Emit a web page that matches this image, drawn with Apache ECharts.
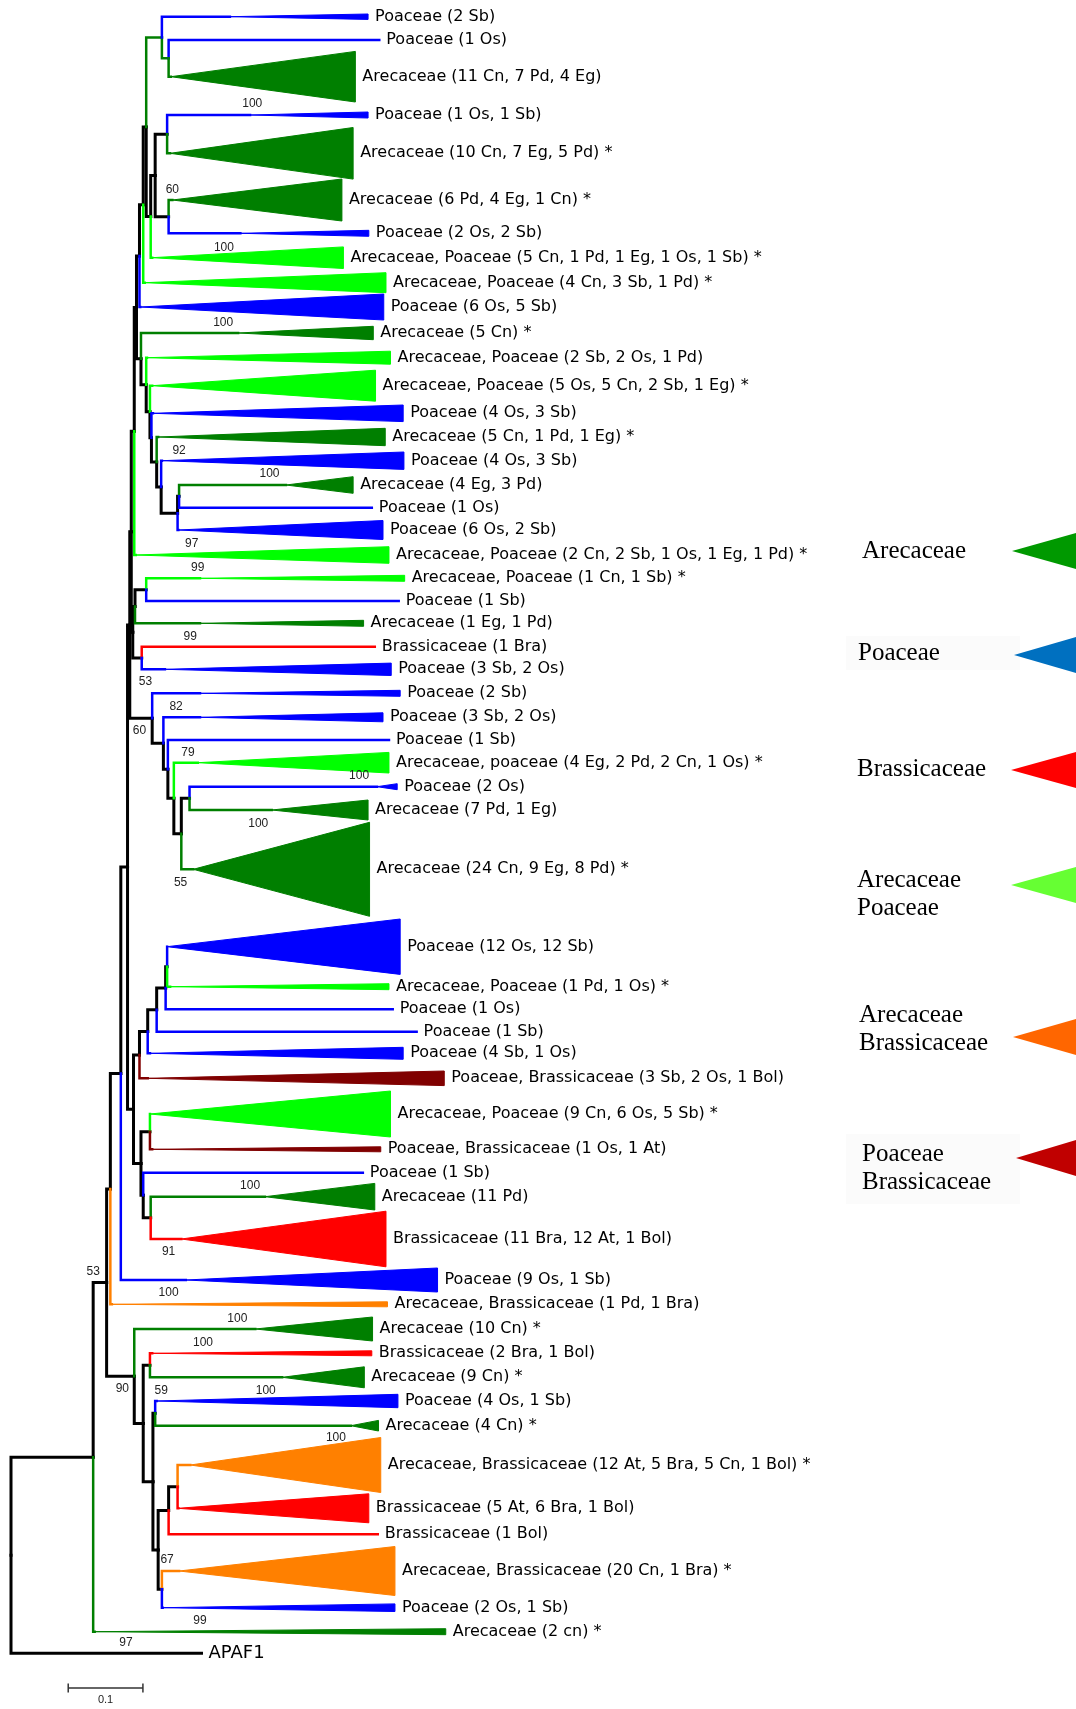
<!DOCTYPE html>
<html><head><meta charset="utf-8">
<script src="https://cdn.jsdelivr.net/npm/echarts@6/dist/echarts.min.js"></script>
<style>html,body{margin:0;padding:0;background:#fff}#c{width:1076px;height:1709px}</style>
</head><body><div id="c"></div>
<script>
// ---- clade groups -> branch colours
const groupColors = {Are:'#007F00', Poa:'#0000FF', Bra:'#FF0000', AreP:'#00FF00', AreB:'#FF8000', PoaB:'#800000', Out:'#000000'};

// ---- internal nodes: [id, parent, distance from root (subst./site)]
const nodes = [
 ['root',null,0],['MM','root',0.110],['BB','MM',0.128],['CC','BB',0.133],['DD','CC',0.147],
 ['Z4','DD',0.156],['Z3','Z4',0.159],['Z2','Z3',0.161],['Z1','Z2',0.165],['O','Z1',0.168],
 ['N','O',0.172],['M','N',0.177],['C','M',0.181],['A','C',0.202],['B','A',0.211],
 ['K','C',0.187],['D','K',0.193],['F','D',0.209],['E','D',0.211],
 ['R','O',0.174],['S','R',0.181],['T','S',0.186],['U','T',0.188],['V','U',0.195],
 ['W','V',0.201],['X','W',0.223],['Y','X',0.225],
 ['Q3','Z2',0.163],['Q2','Q3',0.166],['Q1','Q2',0.181],['Q4','Q3',0.175],
 ['P1','Z3',0.189],['P2','P1',0.204],['P3','P2',0.210],['P4','P3',0.218],['P5','P4',0.228],['P6','P5',0.239],
 ['EE','Z4',0.164],['J5','EE',0.172],['J4','J5',0.183],['J3','J4',0.195],['J1','J3',0.207],['J2','J1',0.209],
 ['K1','EE',0.174],['K2','K1',0.186],['K3','K1',0.177],['K4','K3',0.187],
 ['LL','BB',0.165],['NN1','LL',0.177],['NN2','NN1',0.186],['NN3','NN1',0.190],['NN4','NN3',0.193],
 ['NN5','NN3',0.197],['NN6','NN5',0.211],['NN8','NN6',0.223],['NN7','NN5',0.202]
];
// internal branches that carry a clade colour
const coloredNodes = {A:'Are', B:'Are'};

// ---- tips / collapsed clades:
// [label, group, parent, row, clade-root distance (null = single tip), tip distance, clade half-spread (rows)]
const leaves = [
 ['Poaceae (2 Sb)','Poa','A',16.7,0.293,0.478,2.7],
 ['Poaceae (1 Os)','Poa','B',40,null,0.493,0],
 ['Arecaceae (11 Cn, 7 Pd, 4 Eg)','Are','B',76.7,0.214,0.461,25.3],
 ['Poaceae (1 Os, 1 Sb)','Poa','F',115,0.320,0.478,3],
 ['Arecaceae (10 Cn, 7 Eg, 5 Pd) *','Are','F',153.3,0.213,0.458,25.8],
 ['Arecaceae (6 Pd, 4 Eg, 1 Cn) *','Are','E',200,0.216,0.443,21],
 ['Poaceae (2 Os, 2 Sb)','Poa','E',233.3,0.307,0.479,3],
 ['Arecaceae, Poaceae (5 Cn, 1 Pd, 1 Eg, 1 Os, 1 Sb) *','AreP','K',257.7,0.189,0.445,10.8],
 ['Arecaceae, Poaceae (4 Cn, 3 Sb, 1 Pd) *','AreP','M',282.7,0.179,0.502,10],
 ['Poaceae (6 Os, 5 Sb)','Poa','N',307,0.173,0.499,13],
 ['Arecaceae (5 Cn) *','Are','R',333,0.304,0.485,6.7],
 ['Arecaceae, Poaceae (2 Sb, 2 Os, 1 Pd)','AreP','S',357.7,0.182,0.508,6.5],
 ['Arecaceae, Poaceae (5 Os, 5 Cn, 2 Sb, 1 Eg) *','AreP','T',385.7,0.189,0.488,15.5],
 ['Poaceae (4 Os, 3 Sb)','Poa','U',413.3,0.190,0.525,8.3],
 ['Arecaceae (5 Cn, 1 Pd, 1 Eg) *','Are','V',437,0.197,0.501,8.7],
 ['Poaceae (4 Os, 3 Sb)','Poa','W',460.7,0.202,0.526,8.7],
 ['Arecaceae (4 Eg, 3 Pd)','Are','Y',485,0.368,0.458,8.3],
 ['Poaceae (1 Os)','Poa','Y',507.7,null,0.483,0],
 ['Poaceae (6 Os, 2 Sb)','Poa','X',530,0.224,0.498,9.5],
 ['Arecaceae, Poaceae (2 Cn, 2 Sb, 1 Os, 1 Eg, 1 Pd) *','AreP','Z1',555,0.167,0.506,8.3],
 ['Arecaceae, Poaceae (1 Cn, 1 Sb) *','AreP','Q1',578.3,0.253,0.527,3],
 ['Poaceae (1 Sb)','Poa','Q1',601,null,0.519,0],
 ['Arecaceae (1 Eg, 1 Pd)','Are','Q2',623.3,0.253,0.472,3],
 ['Brassicaceae (1 Bra)','Bra','Q4',646.7,null,0.487,0],
 ['Poaceae (3 Sb, 2 Os)','Poa','Q4',669.3,0.206,0.509,6.2],
 ['Poaceae (2 Sb)','Poa','P1',693.3,0.253,0.521,3],
 ['Poaceae (3 Sb, 2 Os)','Poa','P2',717.3,0.253,0.498,4.5],
 ['Poaceae (1 Sb)','Poa','P3',740,null,0.506,0],
 ['Arecaceae, poaceae (4 Eg, 2 Pd, 2 Cn, 1 Os) *','AreP','P4',762.7,0.250,0.506,10.3],
 ['Poaceae (2 Os)','Poa','P6',786.7,0.490,0.517,3],
 ['Arecaceae (7 Pd, 1 Eg)','Are','P6',810,0.349,0.478,10],
 ['Arecaceae (24 Cn, 9 Eg, 8 Pd) *','Are','P5',869.3,0.244,0.480,47],
 ['Poaceae (12 Os, 12 Sb)','Poa','J2',946.7,0.209,0.521,27.7],
 ['Arecaceae, Poaceae (1 Pd, 1 Os) *','AreP','J2',986.7,0.213,0.506,3],
 ['Poaceae (1 Os)','Poa','J1',1009.3,null,0.511,0],
 ['Poaceae (1 Sb)','Poa','J3',1031.7,null,0.543,0],
 ['Poaceae (4 Sb, 1 Os)','Poa','J4',1053.3,0.186,0.525,6],
 ['Poaceae, Brassicaceae (3 Sb, 2 Os, 1 Bol)','PoaB','J5',1078.3,0.183,0.580,7.3],
 ['Arecaceae, Poaceae (9 Cn, 6 Os, 5 Sb) *','AreP','K2',1114,0.186,0.508,23],
 ['Poaceae, Brassicaceae (1 Os, 1 At)','PoaB','K2',1149.3,0.189,0.495,2.5],
 ['Poaceae (1 Sb)','Poa','K3',1172.7,null,0.471,0],
 ['Arecaceae (11 Pd)','Are','K4',1196.7,0.340,0.487,13.3],
 ['Brassicaceae (11 Bra, 12 At, 1 Bol)','Bra','K4',1239,0.228,0.502,27.8],
 ['Poaceae (9 Os, 1 Sb)','Poa','DD',1280,0.234,0.571,12],
 ['Arecaceae, Brassicaceae (1 Pd, 1 Bra)','AreB','CC',1304.3,0.135,0.504,2.5],
 ['Arecaceae (10 Cn) *','Are','LL',1329,0.327,0.484,12],
 ['Brassicaceae (2 Bra, 1 Bol)','Bra','NN2',1353.3,0.189,0.483,2.5],
 ['Arecaceae (9 Cn) *','Are','NN2',1377.3,0.363,0.473,10.5],
 ['Poaceae (4 Os, 1 Sb)','Poa','NN4',1401,0.195,0.518,6.7],
 ['Arecaceae (4 Cn) *','Are','NN4',1425.7,0.455,0.492,5.3],
 ['Arecaceae, Brassicaceae (12 At, 5 Bra, 5 Cn, 1 Bol) *','AreB','NN8',1465,0.240,0.495,27.5],
 ['Brassicaceae (5 At, 6 Bra, 1 Bol)','Bra','NN8',1508.3,0.224,0.479,14.5],
 ['Brassicaceae (1 Bol)','Bra','NN6',1534.3,null,0.491,0],
 ['Arecaceae, Brassicaceae (20 Cn, 1 Bra) *','AreB','NN7',1571,0.225,0.514,24.5],
 ['Poaceae (2 Os, 1 Sb)','Poa','NN7',1607.7,0.203,0.514,3.8],
 ['Arecaceae (2 cn) *','Are','MM',1631.7,0.112,0.582,3],
 ['APAF1','Out','root',1653.3,null,0.255,0]
];

// ---- bootstrap support values: [value, distance, row]
const support = [
 [100,0.323,103.3],[60,0.216,190],[100,0.285,247.7],[100,0.284,322.7],[92,0.225,451],
 [100,0.346,473.3],[97,0.242,544],[99,0.250,567.3],[99,0.240,636.7],[53,0.180,681.7],
 [82,0.221,706.7],[60,0.172,730.7],[79,0.237,752.7],[100,0.466,775.7],[100,0.331,823.3],
 [55,0.227,882.7],[100,0.320,1185.7],[91,0.211,1251.7],[53,0.110,1271.7],[100,0.211,1292.7],
 [100,0.303,1319],[100,0.257,1342.7],[90,0.149,1389],[59,0.201,1390.7],[100,0.341,1391],
 [100,0.435,1437.3],[67,0.209,1559.3],[99,0.253,1621],[97,0.154,1642.7]
];

// ---- scale bar: [start distance, row, length, label]
const scaleBar = [[0.0766, 1688, 0.1, '0.1']];

// ---- legend entries
const legendItems = [
 ['Arecaceae','#009900'],
 ['Poaceae','#0070C0'],
 ['Brassicaceae','#FF0000'],
 ['Arecaceae\nPoaceae','#66FF33'],
 ['Arecaceae\nBrassicaceae','#FF6600'],
 ['Poaceae\nBrassicaceae','#C00000']
];

// ---------- build tree ----------
const info = {};
nodes.forEach(([id,p,d]) => { info[id] = {id, parent:p, d, children:[], leaf:false}; });
leaves.forEach((l,i) => {
  info['L'+i] = {id:'L'+i, label:l[0], group:l[1], parent:l[2], y:l[3], apex:l[4], d:l[5], h:l[6], leaf:true};
});
Object.values(info).forEach(n => { if (n.parent) info[n.parent].children.push(n.id); });
function placeY(id){
  const n = info[id];
  if (n.leaf) return n.y;
  const ys = n.children.map(placeY);
  n.y = (Math.min(...ys) + Math.max(...ys)) / 2;
  return n.y;
}
placeY('root');

const branchData = [];
Object.values(info).forEach(n => {
  if (!n.parent) return;
  const p = info[n.parent];
  const start = n.leaf ? (n.apex != null ? n.apex : n.d) : n.d;
  let color, w;
  if (n.leaf) { color = groupColors[n.group]; w = n.group === 'Out' ? 3 : 2.5; }
  else if (coloredNodes[n.id]) { color = groupColors[coloredNodes[n.id]]; w = 2.5; }
  else { color = '#000000'; w = 3; }
  branchData.push({value:[p.d, p.y, start, n.y], color, w});
});
branchData.sort((a,b) => (a.color === '#000000' ? 0 : 1) - (b.color === '#000000' ? 0 : 1));

const triData = [];
const tipData = [];
Object.values(info).forEach(n => {
  if (!n.leaf) return;
  if (n.apex != null) triData.push({value:[n.apex, n.d, n.y, n.h], color: groupColors[n.group]});
  tipData.push({value:[n.d, n.y], label:n.label, out: n.group === 'Out'});
});

// ---------- legend graphic ----------
const legendLayout = {textX:[862,858,857,857,859,862], textY:[551,653,769,894,1029,1168],
                      triX:[1012,1014,1011,1011,1013,1016], triY:[551,655,770,885,1037,1158]};
const graphic = [
  {type:'rect', shape:{x:846,y:636,width:174,height:34}, style:{fill:'#fbfbfb'}, z:0},
  {type:'rect', shape:{x:846,y:1134,width:174,height:70}, style:{fill:'#fbfbfb'}, z:0}
];
legendItems.forEach((it,i) => {
  const tx = legendLayout.triX[i], ty = legendLayout.triY[i];
  graphic.push({type:'polygon', shape:{points:[[tx,ty],[1076,ty-18],[1076,ty+18]]}, style:{fill:it[1]}, z:2});
  graphic.push({type:'text', x:legendLayout.textX[i], y:legendLayout.textY[i],
    style:{text:it[0], font:'25px "Liberation Serif"', fill:'#000', align:'left', verticalAlign:'middle', lineHeight:28}, z:2});
});

// ---------- chart ----------
const chart = echarts.init(document.getElementById('c'), null, {renderer:'canvas'});
chart.setOption({
  animation:false,
  backgroundColor:'#ffffff',
  grid:{left:0,right:0,top:0,bottom:0},
  xAxis:{type:'value', min:-11/747, max:1065/747, show:false},
  yAxis:{type:'value', min:0, max:1709, inverse:true, show:false},
  graphic: graphic,
  series:[
    {type:'custom', name:'branches', clip:false, silent:true,
     data: branchData.map(b => b.value),
     renderItem:(params, api) => {
       const b = branchData[params.dataIndex];
       const p0 = api.coord([api.value(0), api.value(1)]);
       const p1 = api.coord([api.value(0), api.value(3)]);
       const p2 = api.coord([api.value(2), api.value(3)]);
       return {type:'polyline', shape:{points:[p0,p1,p2]},
               style:{stroke:b.color, lineWidth:b.w, fill:null, lineJoin:'miter', lineCap:'square'}};
     }},
    {type:'custom', name:'clades', clip:false, silent:true,
     data: triData.map(t => t.value),
     renderItem:(params, api) => {
       const t = triData[params.dataIndex];
       const a = api.coord([api.value(0), api.value(2)]);
       const top = api.coord([api.value(1), api.value(2) - api.value(3)]);
       const bot = api.coord([api.value(1), api.value(2) + api.value(3)]);
       return {type:'polygon', shape:{points:[a, top, bot]}, style:{fill:t.color, stroke:t.color, lineWidth:1}};
     }},
    {type:'custom', name:'tips', clip:false, silent:true,
     data: tipData.map(t => t.value),
     renderItem:(params, api) => {
       const t = tipData[params.dataIndex];
       const p = api.coord([api.value(0), api.value(1)]);
       return {type:'text', x:p[0]+7, y:p[1],
               style:{text:t.label, font:(t.out ? '18px' : '16px') + ' "DejaVu Sans"', fill:'#000', align:'left', verticalAlign:'middle'}};
     }},
    {type:'custom', name:'support', clip:false, silent:true,
     data: support.map(s => [s[1], s[2], s[0]]),
     renderItem:(params, api) => {
       const p = api.coord([api.value(0), api.value(1)]);
       return {type:'text', x:p[0], y:p[1],
               style:{text:String(api.value(2)), font:'12px "Liberation Sans"', fill:'#222', align:'center', verticalAlign:'middle'}};
     }},
    {type:'custom', name:'scale', clip:false, silent:true,
     data: scaleBar.map(s => [s[0], s[1], s[2]]),
     renderItem:(params, api) => {
       const a = api.coord([api.value(0), api.value(1)]);
       const b = api.coord([api.value(0) + api.value(2), api.value(1)]);
       const st = {stroke:'#333', lineWidth:1.5};
       return {type:'group', children:[
         {type:'line', shape:{x1:a[0],y1:a[1],x2:b[0],y2:b[1]}, style:st},
         {type:'line', shape:{x1:a[0],y1:a[1]-4.5,x2:a[0],y2:a[1]+4.5}, style:st},
         {type:'line', shape:{x1:b[0],y1:b[1]-4.5,x2:b[0],y2:b[1]+4.5}, style:st},
         {type:'text', x:(a[0]+b[0])/2, y:a[1]+12, style:{text:scaleBar[params.dataIndex][3], font:'11px "Liberation Sans"', fill:'#222', align:'center', verticalAlign:'middle'}}
       ]};
     }}
  ]
});
</script>
</body></html>
